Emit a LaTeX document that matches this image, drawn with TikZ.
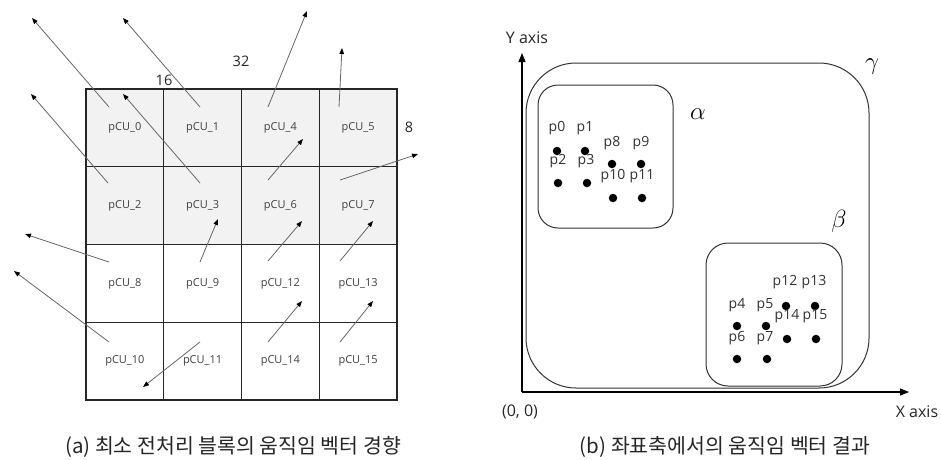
\documentclass[tikz,border=0pt]{standalone}
\usepackage{fontspec}
\setmainfont{Open Sans}
\newfontfamily\krfont{Noto Sans CJK KR}
\usetikzlibrary{arrows.meta}
\begin{document}
\begin{tikzpicture}[x=1pt,y=-1pt,
  cell/.style={draw=black!85, line width=1.1pt, minimum width=77.75pt, minimum height=77.75pt, inner sep=0pt, font=\fontsize{11}{13}\selectfont, text=black!75},
  shaded/.style={cell, fill=black!5},
  vec/.style={draw=black!60, line width=0.8pt, -{Triangle[length=6pt,width=4.5pt,color=black]}},
  num/.style={font=\fontsize{14.5}{16}\selectfont, text=black!85, inner sep=0pt},
  region/.style={draw=black!80, line width=1pt, inner sep=0pt},
  greek/.style={font=\fontsize{26}{30}\selectfont, inner sep=0pt},
  dot/.style={circle, fill=black, inner sep=0pt, minimum size=8.5pt},
  plabel/.style={font=\fontsize{14}{16}\selectfont, text=black!80, inner sep=0pt},
  axlabel/.style={font=\fontsize{16}{18}\selectfont, text=black!85, inner sep=0pt},
  axis/.style={draw=black, line width=1.2pt, -{Triangle[length=9pt,width=7pt]}},
  caption/.style={font=\krfont\fontsize{20.5}{24}\selectfont, text=black!85, inner sep=0pt}
]
\useasboundingbox (0,0) rectangle (941,459);

% ---------- left panel: grid ----------
\node[shaded] (c0)  at (124.9,127.9) {pCU\_0};
\node[shaded] (c1)  at (202.6,127.9) {pCU\_1};
\node[shaded] (c4)  at (280.4,127.9) {pCU\_4};
\node[shaded] (c5)  at (358.1,127.9) {pCU\_5};
\node[shaded] (c2)  at (124.9,205.6) {pCU\_2};
\node[shaded] (c3)  at (202.6,205.6) {pCU\_3};
\node[shaded] (c6)  at (280.4,205.6) {pCU\_6};
\node[shaded] (c7)  at (358.1,205.6) {pCU\_7};
\node[cell] (c8)  at (124.9,283.4) {pCU\_8};
\node[cell] (c9)  at (202.6,283.4) {pCU\_9};
\node[cell] (c12) at (280.4,283.4) {pCU\_12};
\node[cell] (c13) at (358.1,283.4) {pCU\_13};
\node[cell] (c10) at (124.9,361.1) {pCU\_10};
\node[cell] (c11) at (202.6,361.1) {pCU\_11};
\node[cell] (c14) at (280.4,361.1) {pCU\_14};
\node[cell] (c15) at (358.1,361.1) {pCU\_15};

\node[num] (n16) at (164,80) {16};
\node[num] (n32) at (241,61) {32};
\node[num] (n8)  at (409,127) {8};

% motion vectors
\coordinate (s0) at (109,107);  \coordinate (t0) at (32,18);
\coordinate (s1) at (200,107);  \coordinate (t1) at (123,18);
\coordinate (s4) at (268,107);  \coordinate (t4) at (307,11);
\coordinate (s5) at (339,107);  \coordinate (t5) at (342,48);
\coordinate (s2) at (108,183);  \coordinate (t2) at (31,94);
\coordinate (s3) at (200,183);  \coordinate (t3) at (123,94);
\coordinate (s6) at (268,180);  \coordinate (t6) at (303,139);
\coordinate (s7) at (340,180);  \coordinate (t7) at (418,154);
\coordinate (s8) at (109,262);  \coordinate (t8) at (25,234);
\coordinate (s9) at (200,262);  \coordinate (t9) at (218,219);
\coordinate (s12) at (268,261); \coordinate (t12) at (302,221);
\coordinate (s13) at (340,261); \coordinate (t13) at (373,221);
\coordinate (s10) at (109,342); \coordinate (t10) at (14,271);
\coordinate (s11) at (200,342); \coordinate (t11) at (143,387);
\coordinate (s14) at (268,342); \coordinate (t14) at (302,301);
\coordinate (s15) at (340,342); \coordinate (t15) at (373,301);
\foreach \k in {0,1,2,3,4,5,6,7,8,9,10,11,12,13,14,15}
  \draw[vec] (s\k) -- (t\k);

\node[caption] (capa) at (233,447) {(a) 최소 전처리 블록의 움직임 벡터 경향};

% ---------- right panel ----------
\node[region, rounded corners=50pt, minimum width=343pt, minimum height=325pt] (gamma) at (697.5,225.5) {};
\node[region, rounded corners=20pt, minimum width=135pt, minimum height=143pt] (alpha) at (605.5,156.5) {};
\node[region, rounded corners=22pt, minimum width=136pt, minimum height=143pt] (beta) at (774,314.5) {};

\coordinate (O) at (522,392);
\coordinate (xend) at (909,392);
\coordinate (yend) at (522,53);
\draw[axis] (O) -- (xend);
\draw[axis] (O) -- (yend);

\node[axlabel] (ylab) at (527,38) {Y axis};
\node[axlabel] (olab) at (520,412) {(0, 0)};
\node[axlabel] (xlab) at (917,412) {X axis};

\node[greek] (lg) at (872,67) {$\gamma$};
\node[greek] (la) at (698,114) {$\alpha$};
\node[greek] (lb) at (839,221) {$\beta$};

% points in alpha
\node[dot] (p0) at (557,151) {};   \node[plabel] at (557,128) {p0};
\node[dot] (p1) at (585,151) {};   \node[plabel] at (585,128) {p1};
\node[dot] (p8) at (612,164) {};   \node[plabel] at (612,143) {p8};
\node[dot] (p9) at (641,164) {};   \node[plabel] at (641,143) {p9};
\node[dot] (p2) at (558,183) {};   \node[plabel] at (558,161) {p2};
\node[dot] (p3) at (587,183) {};   \node[plabel] at (586,161) {p3};
\node[dot] (p10) at (613,198) {};  \node[plabel] at (613,176) {p10};
\node[dot] (p11) at (642,198) {};  \node[plabel] at (642,176) {p11};

% points in beta
\node[dot] (p4) at (737,326) {};   \node[plabel] at (737,305) {p4};
\node[dot] (p5) at (766,326) {};   \node[plabel] at (765,305) {p5};
\node[dot] (p12) at (786,306) {};  \node[plabel] at (785,282) {p12};
\node[dot] (p13) at (815,306) {};  \node[plabel] at (814,282) {p13};
\node[dot] (p6) at (737,359) {};   \node[plabel] at (737,338) {p6};
\node[dot] (p7) at (767,359) {};   \node[plabel] at (765,338) {p7};
\node[dot] (p14) at (787,339) {};  \node[plabel] at (787,316) {p14};
\node[dot] (p15) at (816,339) {};  \node[plabel] at (815,316) {p15};

\node[caption] (capb) at (725,447) {(b) 좌표축에서의 움직임 벡터 결과};
\end{tikzpicture}
\end{document}
